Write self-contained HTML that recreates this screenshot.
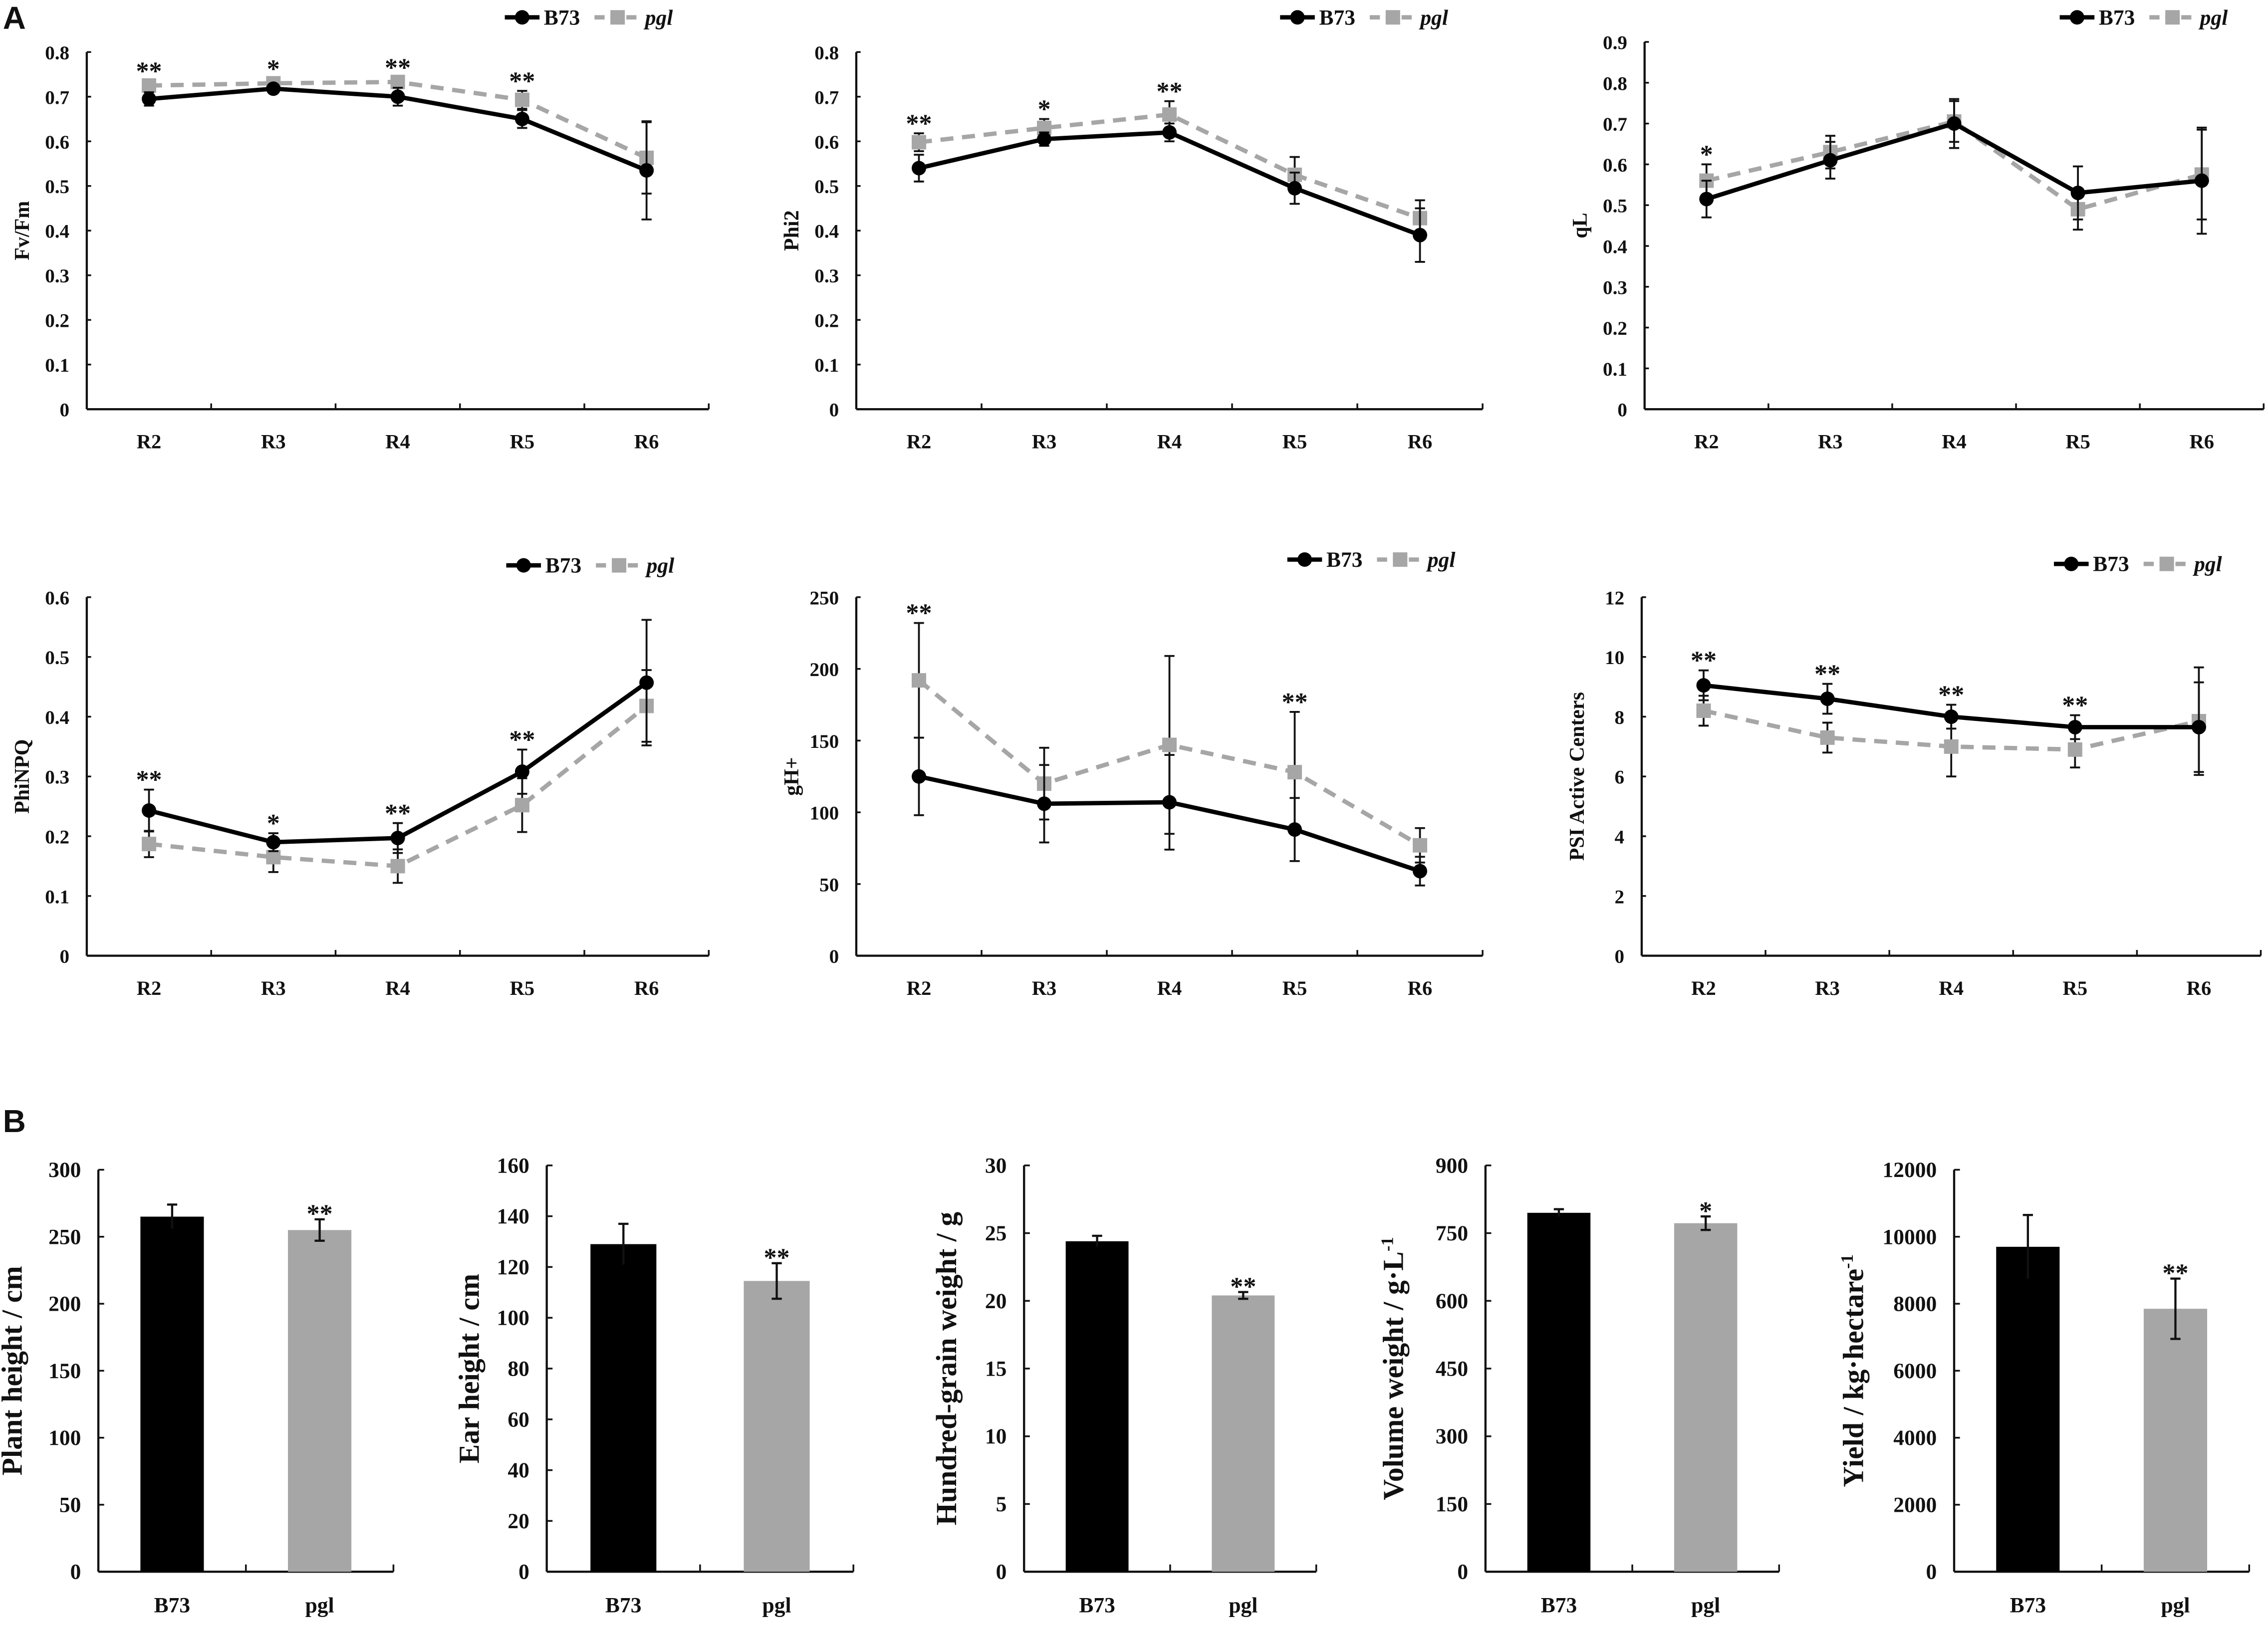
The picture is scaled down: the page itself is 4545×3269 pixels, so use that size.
<!DOCTYPE html>
<html><head><meta charset="utf-8">
<style>
html,body{margin:0;padding:0;background:#fff;}
svg{display:block;}
svg text{font-family:"Liberation Serif","DejaVu Serif",serif;font-weight:bold;fill:#111;}
</style></head>
<body>
<svg id="fig" width="4545" height="3269" viewBox="0 0 1568 1128" preserveAspectRatio="none" xmlns="http://www.w3.org/2000/svg">
<text x="2" y="20" style="font-family:'Liberation Sans',sans-serif;font-size:22px;font-weight:bold">A</text>
<text x="2" y="783" style="font-family:'Liberation Sans',sans-serif;font-size:22px;font-weight:bold">B</text>
</svg>
<script>
const NS="http://www.w3.org/2000/svg";
const svg=document.getElementById('fig');
function mk(tag,attrs,parent){const e=document.createElementNS(NS,tag);for(const k in attrs)e.setAttribute(k,attrs[k]);if(tag==='text')e.setAttribute('font-family','Liberation Serif, serif');(parent||svg).appendChild(e);return e;}

const stages=["R2","R3","R4","R5","R6"];
// Fv/Fm
const fvB=[0.695,0.718,0.700,0.650,0.535], fvBe=[0.015,0.010,0.020,0.020,0.110];
const fvP=[0.725,0.730,0.733,0.693,0.563], fvPe=[0.010,0.010,0.010,0.020,0.080];
const fvS=["**","*","**","**",""];
const fvT=[0,0.1,0.2,0.3,0.4,0.5,0.6,0.7,0.8];
// Phi2
const phB=[0.540,0.605,0.620,0.495,0.390], phBe=[0.030,0.015,0.020,0.035,0.060];
const phP=[0.598,0.630,0.660,0.525,0.428], phPe=[0.020,0.020,0.030,0.040,0.040];
const phS=["**","*","**","",""];
const phT=[0,0.1,0.2,0.3,0.4,0.5,0.6,0.7,0.8];
// qL
const qlB=[0.515,0.610,0.700,0.530,0.560], qlBe=[0.045,0.045,0.060,0.065,0.130];
const qlP=[0.560,0.630,0.705,0.490,0.575], qlPe=[0.040,0.040,0.050,0.050,0.110];
const qlS=["*","","","",""];
const qlT=[0,0.1,0.2,0.3,0.4,0.5,0.6,0.7,0.8,0.9];
// PhiNPQ
const npB=[0.243,0.190,0.197,0.308,0.457], npBe=[0.035,0.015,0.025,0.037,0.105];
const npP=[0.187,0.165,0.150,0.252,0.418], npPe=[0.022,0.025,0.028,0.045,0.060];
const npS=["**","*","**","**",""];
const npT=[0,0.1,0.2,0.3,0.4,0.5,0.6];
// gH+
const ghB=[125,106,107,88,59], ghBe=[27,27,33,22,10];
const ghP=[192,120,147,128,77], ghPe=[40,25,62,42,12];
const ghS=["**","","","**",""];
const ghT=[0,50,100,150,200,250];
// PSI
const psB=[9.05,8.6,8.0,7.65,7.65], psBe=[0.5,0.5,0.4,0.4,1.5];
const psP=[8.2,7.3,7.0,6.9,7.85], psPe=[0.5,0.5,1.0,0.6,1.8];
const psS=["**","**","**","**",""];
const psT=[0,2,4,6,8,10,12];

const lineLabels=["Fv/Fm","Phi2","qL","PhiNPQ","gH+","PSI Active Centers"];

function linePanel(o){
  const g=mk('g',{});
  
  
  const ymax=o.ticks[o.ticks.length-1];
  const y=v=>o.bot-(v/ymax)*(o.bot-o.top);
  const step=(o.right-o.ax)/5;
  const x=i=>o.ax+step*(i+0.5);
  mk('line',{x1:o.ax,y1:o.top,x2:o.ax,y2:o.bot,stroke:'#111','stroke-width':1.5},g);
  mk('line',{x1:o.ax,y1:o.bot,x2:o.right,y2:o.bot,stroke:'#111','stroke-width':1.5},g);
  o.ticks.forEach(t=>{
    mk('line',{x1:o.ax,y1:y(t),x2:o.ax+3,y2:y(t),stroke:'#111','stroke-width':1.2},g);
    const tx=mk('text',{x:o.ax-12,y:y(t)+5,'text-anchor':'end','font-size':13.5},g);tx.textContent=String(t);
  });
  for(let i=1;i<=5;i++) mk('line',{x1:o.ax+step*i,y1:o.bot,x2:o.ax+step*i,y2:o.bot-4,stroke:'#111','stroke-width':1.2},g);
  stages.forEach((s,i)=>{const t=mk('text',{x:x(i),y:o.bot+27,'text-anchor':'middle','font-size':14},g);t.textContent=s;});
  const yl=mk('text',{transform:`translate(${o.ax-40},${(o.top+o.bot)/2}) rotate(-90)`,'text-anchor':'middle','font-size':14.5},g);
  yl.textContent=o.label;
  
  
  const series=[{v:o.p,e:o.pe,c:'#a6a6a6',dash:'9,6',name:'pgl'},{v:o.b,e:o.be,c:'#000',dash:'',name:'b73'}];
  series.forEach(s=>{
    s.e.forEach((e,i)=>{
      mk('line',{x1:x(i),y1:y(s.v[i]-e),x2:x(i),y2:y(s.v[i]+e),stroke:'#111','stroke-width':1.3},g);
      mk('line',{x1:x(i)-3.5,y1:y(s.v[i]-e),x2:x(i)+3.5,y2:y(s.v[i]-e),stroke:'#111','stroke-width':1.3},g);
      mk('line',{x1:x(i)-3.5,y1:y(s.v[i]+e),x2:x(i)+3.5,y2:y(s.v[i]+e),stroke:'#111','stroke-width':1.3},g);
    });
    const pts=s.v.map((v,i)=>x(i)+','+y(v)).join(' ');
    const pl=mk('polyline',{points:pts,fill:'none',stroke:s.c,'stroke-width':3,'stroke-dasharray':s.dash},g);
    
    
    s.v.forEach((v,i)=>{
      let m;
      if(s.dash) m=mk('rect',{x:x(i)-5,y:y(v)-5,width:10,height:10,fill:s.c},g);
      else m=mk('circle',{cx:x(i),cy:y(v),r:5,fill:s.c},g);
      
      
    });
  });
  o.stars.forEach((st,i)=>{
    if(!st)return;
    const top=Math.max(o.b[i]+o.be[i],o.p[i]+o.pe[i]);
    const t=mk('text',{x:x(i),y:y(top)-1,'text-anchor':'middle','font-size':18,'font-weight':'normal'},g);
    t.textContent=st;
    
    
  });
  const lg=mk('g',{},g);
  
  
  const lx=o.lx, ly=o.ly;
  mk('line',{x1:lx,y1:ly,x2:lx+24,y2:ly,stroke:'#000','stroke-width':3},lg);
  mk('circle',{cx:lx+12,cy:ly,r:5,fill:'#000'},lg);
  const t1=mk('text',{x:lx+27,y:ly+5,'font-size':15,'font-weight':'normal'},lg);t1.textContent='B73';
  mk('line',{x1:lx+62,y1:ly,x2:lx+94,y2:ly,stroke:'#a6a6a6','stroke-width':3,'stroke-dasharray':'7,4'},lg);
  mk('rect',{x:lx+73,y:ly-5,width:10,height:10,fill:'#a6a6a6'},lg);
  const t2=mk('text',{x:lx+97,y:ly+5,'font-size':15,'font-style':'italic'},lg);t2.textContent='pgl';
}

linePanel({name:'fv-fm',label:lineLabels[0],ax:60,right:490,top:36,bot:283,ticks:fvT,b:fvB,be:fvBe,p:fvP,pe:fvPe,stars:fvS,lx:349,ly:12});
linePanel({name:'phi2',label:lineLabels[1],ax:592,right:1025,top:36,bot:283,ticks:phT,b:phB,be:phBe,p:phP,pe:phPe,stars:phS,lx:885,ly:12});
linePanel({name:'ql',label:lineLabels[2],ax:1137,right:1565,top:29,bot:283,ticks:qlT,b:qlB,be:qlBe,p:qlP,pe:qlPe,stars:qlS,lx:1424,ly:12});
linePanel({name:'phinpq',label:lineLabels[3],ax:60,right:490,top:413,bot:661,ticks:npT,b:npB,be:npBe,p:npP,pe:npPe,stars:npS,lx:350,ly:391});
linePanel({name:'gh',label:lineLabels[4],ax:592,right:1025,top:413,bot:661,ticks:ghT,b:ghB,be:ghBe,p:ghP,pe:ghPe,stars:ghS,lx:890,ly:387});
linePanel({name:'psi-active-centers',label:lineLabels[5],ax:1135,right:1563,top:413,bot:661,ticks:psT,b:psB,be:psBe,p:psP,pe:psPe,stars:psS,lx:1420,ly:390});

const barCats=["B73","pgl"];
const phVals=[265,255], phErr=[9,8], phStars=["","**"], phTicks=[0,50,100,150,200,250,300];
const ehVals=[129,114.5], ehErr=[8,7], ehStars=["","**"], ehTicks=[0,20,40,60,80,100,120,140,160];
const hgVals=[24.4,20.4], hgErr=[0.4,0.25], hgStars=["","**"], hgTicks=[0,5,10,15,20,25,30];
const vwVals=[795,772], vwErr=[8,15], vwStars=["","*"], vwTicks=[0,150,300,450,600,750,900];
const ydVals=[9700,7850], ydErr=[950,900], ydStars=["","**"], ydTicks=[0,2000,4000,6000,8000,10000,12000];

function barPanel(o){
  const g=mk('g',{});
  
  
  const ymax=o.ticks[o.ticks.length-1];
  const y=v=>o.bot-(v/ymax)*(o.bot-o.top);
  const step=(o.right-o.ax)/2;
  const x=i=>o.ax+step*(i+0.5);
  const bw=step*0.43;
  mk('line',{x1:o.ax,y1:o.top,x2:o.ax,y2:o.bot,stroke:'#111','stroke-width':1.5},g);
  mk('line',{x1:o.ax,y1:o.bot,x2:o.right,y2:o.bot,stroke:'#111','stroke-width':1.5},g);
  o.ticks.forEach(t=>{
    mk('line',{x1:o.ax,y1:y(t),x2:o.ax+4,y2:y(t),stroke:'#111','stroke-width':1.2},g);
    const tx=mk('text',{x:o.ax-12,y:y(t)+5,'text-anchor':'end','font-size':15},g);tx.textContent=String(t);
  });
  for(let i=1;i<=2;i++) mk('line',{x1:o.ax+step*i,y1:o.bot,x2:o.ax+step*i,y2:o.bot-5,stroke:'#111','stroke-width':1.2},g);
  const cols=['#000','#a6a6a6'];
  o.vals.forEach((v,i)=>{
    const r=mk('rect',{x:x(i)-bw/2,y:y(v),width:bw,height:o.bot-y(v),fill:cols[i]},g);
    
    
    const e=o.err[i];
    mk('line',{x1:x(i),y1:y(v-e),x2:x(i),y2:y(v+e),stroke:'#111','stroke-width':1.5},g);
    mk('line',{x1:x(i)-3.5,y1:y(v+e),x2:x(i)+3.5,y2:y(v+e),stroke:'#111','stroke-width':1.5},g);
    if(i==1) mk('line',{x1:x(i)-3.5,y1:y(v-e),x2:x(i)+3.5,y2:y(v-e),stroke:'#111','stroke-width':1.5},g);
    const t=mk('text',{x:x(i),y:o.bot+28,'text-anchor':'middle','font-size':15},g);t.textContent=barCats[i];
    if(o.stars[i]){const s=mk('text',{x:x(i),y:y(v+e)+2,'text-anchor':'middle','font-size':18,'font-weight':'normal'},g);s.textContent=o.stars[i];}
  });
  const yl=mk('text',{transform:`translate(${o.ax-o.lo},${(o.top+o.bot)/2}) rotate(-90)`,'text-anchor':'middle','font-size':20},g);
  yl.innerHTML=o.label;
  
  
}
barPanel({name:'plant-height',label:'Plant height / cm',ax:68,right:272,top:809,bot:1087,ticks:phTicks,vals:phVals,err:phErr,stars:phStars,lo:53});
barPanel({name:'ear-height',label:'Ear height / cm',ax:378,right:590,top:806,bot:1087,ticks:ehTicks,vals:ehVals,err:ehErr,stars:ehStars,lo:47});
barPanel({name:'hundred-grain-weight',label:'Hundred-grain weight / g',ax:708,right:910,top:806,bot:1087,ticks:hgTicks,vals:hgVals,err:hgErr,stars:hgStars,lo:47});
barPanel({name:'volume-weight',label:'Volume weight / g·L<tspan dy="-7" font-size="12">-1</tspan>',ax:1027,right:1230,top:806,bot:1087,ticks:vwTicks,vals:vwVals,err:vwErr,stars:vwStars,lo:57});
barPanel({name:'yield',label:'Yield / kg·hectare<tspan dy="-7" font-size="12">-1</tspan>',ax:1351,right:1555,top:809,bot:1087,ticks:ydTicks,vals:ydVals,err:ydErr,stars:ydStars,lo:63});
</script>
</body></html>
